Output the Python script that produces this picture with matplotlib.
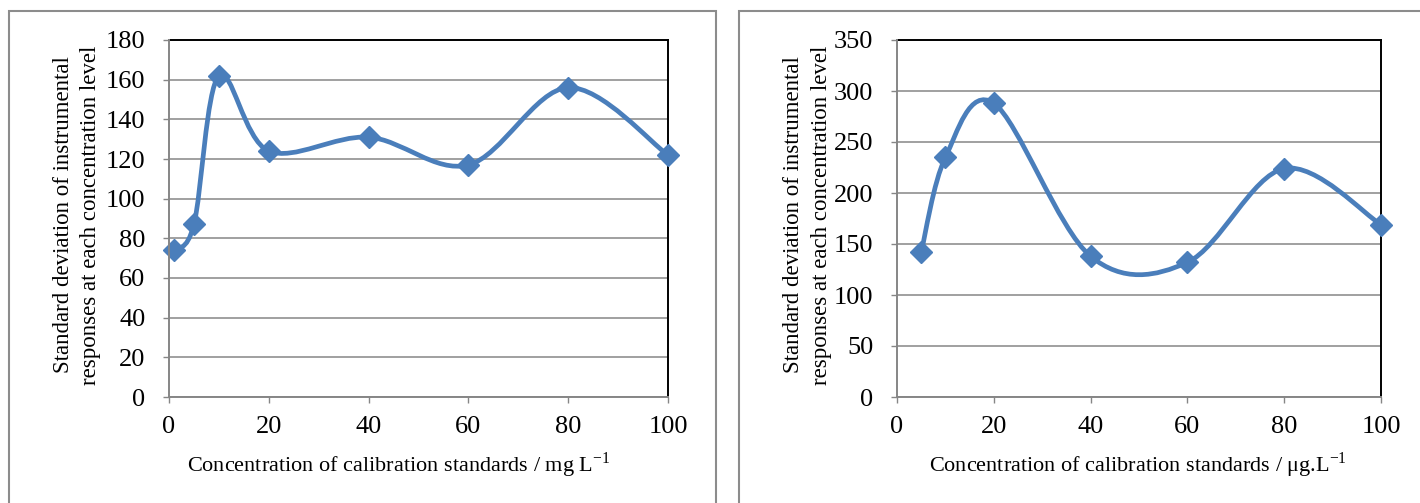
import matplotlib
matplotlib.use("Agg")
import matplotlib.pyplot as plt
from matplotlib.path import Path
from matplotlib.patches import PathPatch, Rectangle

# concentration levels and standard deviations of the responses
conc_mg = [1, 5, 10, 20, 40, 60, 80, 100]
sd_mg = [74, 87, 162, 124, 131, 117, 156, 122]

conc_ug = [5, 10, 20, 40, 60, 80, 100]
sd_ug = [142, 235, 288, 138, 132, 224, 169]

yticks_mg = list(range(0, 181, 20))
yticks_ug = list(range(0, 351, 50))
xticks = [0, 20, 40, 60, 80, 100]

ylabel_text = "Standard deviation of instrumental\nresponses at each concentration level"
xlabel_mg = r"Concentration of calibration standards / mg L$^{\mathrm{-1}}$"
xlabel_ug = r"Concentration of calibration standards / μg.L$^{\mathrm{-1}}$"

BLUE = "#4a7ebb"
GRAY = "#868686"

plt.rcParams['font.family'] = ['Liberation Serif', 'DejaVu Serif']
plt.rcParams['mathtext.fontset'] = 'custom'
plt.rcParams['mathtext.rm'] = 'Liberation Serif'


def smooth_path(xs, ys, t=1.0 / 6):
    """Bezier path through the points (spreadsheet-style smoothed line)."""
    pts = list(zip(xs, ys))
    n = len(pts)
    verts = [pts[0]]
    codes = [Path.MOVETO]
    for i in range(n - 1):
        p0 = pts[i - 1] if i > 0 else pts[i]
        p1 = pts[i]
        p2 = pts[i + 1]
        p3 = pts[i + 2] if i + 2 < n else pts[i + 1]
        c1 = (p1[0] + (p2[0] - p0[0]) * t, p1[1] + (p2[1] - p0[1]) * t)
        c2 = (p2[0] - (p3[0] - p1[0]) * t, p2[1] - (p3[1] - p1[1]) * t)
        verts += [c1, c2, p2]
        codes += [Path.CURVE4] * 3
    return Path(verts, codes)


def draw_panel(ax, xs, ys, ymax, yticks, xlabel, xlabel_x):
    ax.add_patch(PathPatch(smooth_path(xs, ys), facecolor='none', edgecolor=BLUE,
                           linewidth=3.4, capstyle='round', zorder=3))
    ax.plot(xs, ys, linestyle='none', marker='D', markersize=11.5, color=BLUE,
            markeredgecolor=BLUE, zorder=4, clip_on=False)

    ax.set_xlim(0, 100)
    ax.set_ylim(0, ymax)
    ax.set_xticks(xticks)
    ax.set_yticks(yticks)
    ax.grid(axis='y', color=GRAY, linewidth=1.1)
    ax.set_axisbelow(True)

    for side in ['top', 'right']:
        ax.spines[side].set_color('black')
        ax.spines[side].set_linewidth(1.4)
    for side in ['left', 'bottom']:
        ax.spines[side].set_color(GRAY)
        ax.spines[side].set_linewidth(1.4)
        ax.spines[side].set_zorder(5)

    ax.tick_params(axis='both', direction='out', length=4.5, width=1.0, color=GRAY,
                   labelsize=19, labelcolor='black')
    ax.tick_params(axis='x', pad=9.5)
    ax.tick_params(axis='y', pad=12.5)

    ax.set_ylabel(ylabel_text, fontsize=16.5, linespacing=1.38, va='center')
    ax.yaxis.set_label_coords(-0.185, 0.51)

    fig.text(xlabel_x, 1 - 465 / 503, xlabel, fontsize=16, ha='center', va='center')


fig = plt.figure(figsize=(14.2, 5.03), dpi=100)

# outer chart frames
fig.add_artist(Rectangle((9 / 1420, -0.05), 707 / 1420, 1.05 - 11 / 503,
                         transform=fig.transFigure, fill=False, edgecolor='#8c8c8c',
                         linewidth=1.5))
fig.add_artist(Rectangle((739 / 1420, -0.05), 0.5, 1.05 - 11 / 503,
                         transform=fig.transFigure, fill=False, edgecolor='#8c8c8c',
                         linewidth=1.5))

ax1 = fig.add_axes([169 / 1420, 1 - 397 / 503, 499 / 1420, 357 / 503])
ax2 = fig.add_axes([897 / 1420, 1 - 397 / 503, 484 / 1420, 357 / 503])

draw_panel(ax1, conc_mg, sd_mg, 180, yticks_mg, xlabel_mg, 399 / 1420)
draw_panel(ax2, conc_ug, sd_ug, 350, yticks_ug, xlabel_ug, 1138 / 1420)

fig.savefig("out.png", dpi=100)
